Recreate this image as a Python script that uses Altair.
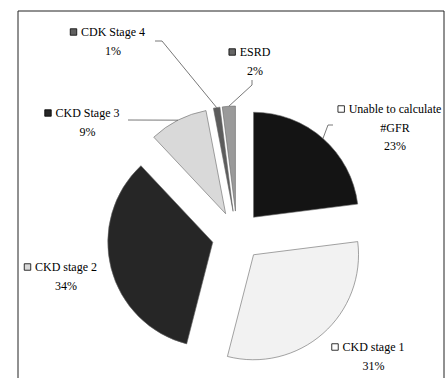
import math
import altair as alt
import pandas as pd

# ---- data (clockwise from 12 o'clock) ----
categories = ["Unable to calculate #GFR", "CKD stage 1", "CKD stage 2",
              "CKD Stage 3", "CDK Stage 4", "ESRD"]
label_names = ["Unable to calculate\n#GFR", "CKD stage 1", "CKD stage 2",
               "CKD Stage 3", "CDK Stage 4", "ESRD"]
values = [23, 31, 34, 9, 1, 2]

# ---- styles ----
slice_colors = ["#141414", "#f2f2f2", "#262626", "#d9d9d9", "#5c5c5c", "#9a9a9a"]
key_colors = ["#ffffff", "#ffffff", "#d9d9d9", "#262626", "#606060", "#666666"]
FONT = "'Liberation Serif', 'Times New Roman', 'DejaVu Serif', serif"
FS = 12
RADIUS = 105
EXPLODE = 25

# ---- layout (pixels relative to the pie centre, y downwards) ----
LABEL_DX = [158, 136.5, -171, -149.5, -124, 18]
LABEL_DY = [-127, 111, 31, -123, -204, -184]
LEADERS = {
    "Unable to calculate #GFR": [(96, -111), (91, -111)],
    "CKD Stage 3": [(-109, -116), (-109, -116)],
    "CDK Stage 4": [(-82, -195), (-75, -195)],
    "ESRD": [(15, -156), (15, -151)],
}

W, H = 426, 367
CX, CY = 219, 225

# Times-like glyph widths (per 1000 em) for key placement
GW = dict(zip("ABCDEFGHIJKLMNOPQRSTUVWXYZ",
              [722, 667, 667, 722, 611, 556, 722, 722, 333, 389, 722, 611, 889,
               722, 722, 556, 722, 667, 556, 611, 722, 722, 944, 722, 722, 611]))
GW.update(dict(zip("abcdefghijklmnopqrstuvwxyz",
                   [444, 500, 444, 500, 444, 333, 500, 500, 278, 278, 500, 278, 778,
                    500, 500, 500, 500, 333, 389, 278, 500, 500, 722, 500, 500, 444])))
GW.update({" ": 250, "%": 833, "#": 500})


def text_width(s):
    return sum(GW.get(c, 500) for c in s) * FS / 1000.0


rows = []
cum = 0
for i, (cat, v) in enumerate(zip(categories, values)):
    t0, t1 = cum, cum + v
    cum = t1
    m = (t0 + t1) / 2 / 100 * 2 * math.pi
    first = label_names[i].split("\n")[0]
    rows.append(dict(
        cat=cat, value=v, t0=t0, t1=t1,
        ex=EXPLODE * math.sin(m), ey=-EXPLODE * math.cos(m),
        px=(EXPLODE + RADIUS) * math.sin(m), py=-(EXPLODE + RADIUS) * math.cos(m),
        label=label_names[i] + "\n" + f"{v}%",
        lx=LABEL_DX[i], ly=LABEL_DY[i] + 4,
        kx=LABEL_DX[i] - text_width(first) / 2 - 7.5, ky=LABEL_DY[i],
    ))
df = pd.DataFrame(rows)

lead_rows = []
for r in rows:
    if r["cat"] in LEADERS:
        (sx, sy), (exx, eyy) = LEADERS[r["cat"]]
        lead_rows += [dict(cat=r["cat"], o=0, x=sx, y=sy),
                      dict(cat=r["cat"], o=1, x=exx, y=eyy),
                      dict(cat=r["cat"], o=2, x=r["px"], y=r["py"])]
lead = pd.DataFrame(lead_rows)

xs = alt.Scale(domain=[-CX, W - CX], nice=False, zero=False)
ys = alt.Scale(domain=[-CY, H - CY], nice=False, zero=False, reverse=True)

arcs = alt.Chart(df).mark_arc(radius=RADIUS, stroke="#666666", strokeWidth=0.6).encode(
    x=alt.X("ex:Q", scale=xs, axis=None, stack=None),
    y=alt.Y("ey:Q", scale=ys, axis=None, stack=None),
    theta=alt.Theta("t0:Q", stack=None,
                    scale=alt.Scale(domain=[0, 100], range=[0, 2 * math.pi])),
    theta2="t1:Q",
    color=alt.Color("cat:N", scale=alt.Scale(domain=categories, range=slice_colors),
                    legend=None),
)

leaders = alt.Chart(lead).mark_line(color="#555555", strokeWidth=0.8).encode(
    x=alt.X("x:Q", scale=xs, axis=None),
    y=alt.Y("y:Q", scale=ys, axis=None),
    detail="cat:N",
    order="o:Q",
)

labels = alt.Chart(df).mark_text(
    font=FONT, fontSize=FS, align="center", baseline="alphabetic",
    lineBreak="\n", lineHeight=18.5, color="black",
).encode(
    x=alt.X("lx:Q", scale=xs, axis=None),
    y=alt.Y("ly:Q", scale=ys, axis=None),
    text="label:N",
)

keys = alt.Chart(df).mark_square(size=42, stroke="black", strokeWidth=0.8,
                                 opacity=1).encode(
    x=alt.X("kx:Q", scale=xs, axis=None),
    y=alt.Y("ky:Q", scale=ys, axis=None),
    fill=alt.Fill("cat:N", scale=alt.Scale(domain=categories, range=key_colors),
                  legend=None),
)

one = alt.Data(values=[{}])
frame_left = alt.Chart(one).mark_rule(color="#222222", strokeWidth=1).encode(
    x=alt.value(0), y=alt.value(0), y2=alt.value(H + 10))
frame_top = alt.Chart(one).mark_rule(color="#222222", strokeWidth=1).encode(
    x=alt.value(0), x2=alt.value(W), y=alt.value(0))
frame_right = alt.Chart(one).mark_rule(color="#222222", strokeWidth=1).encode(
    x=alt.value(W), y=alt.value(0), y2=alt.value(H + 10))

chart = alt.layer(
    arcs, leaders, labels, keys, frame_left, frame_top, frame_right
).properties(
    width=W, height=H,
    padding={"left": 18, "top": 11, "right": 3, "bottom": 0},
    autosize=alt.AutoSizeParams(type="none"),
    background="white",
).configure_view(stroke=None)

chart.save("out.html", embed_options={"renderer": "svg", "actions": False})
